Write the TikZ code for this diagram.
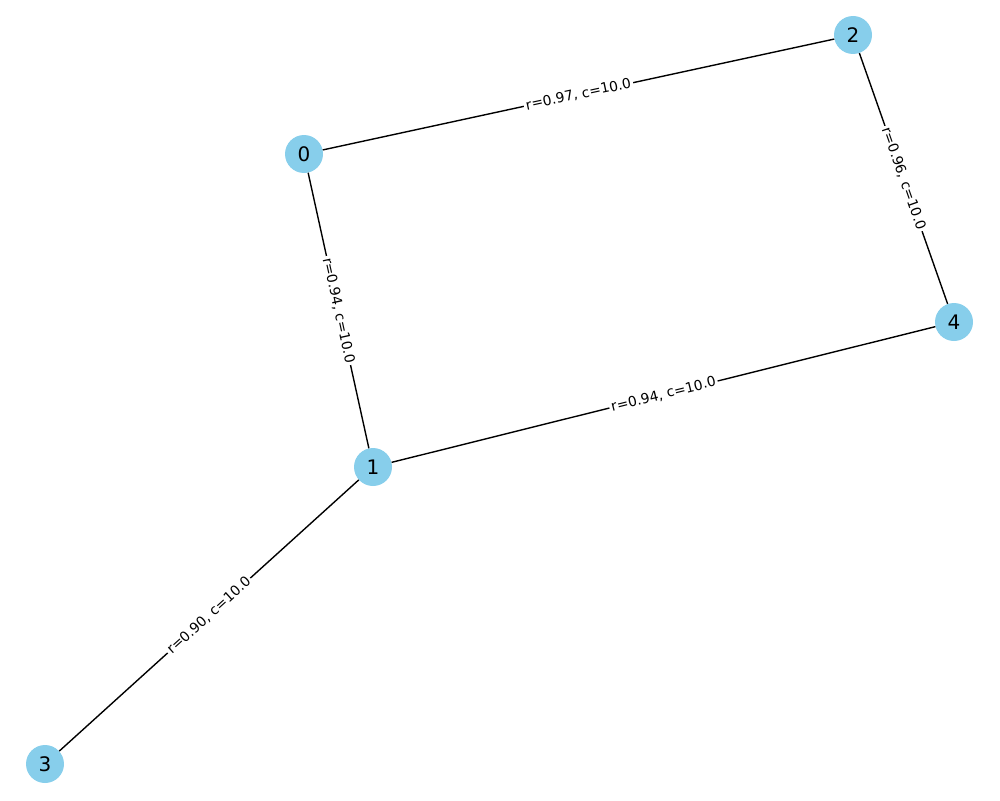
\documentclass[tikz,border=0pt]{standalone}
\usepackage{fontspec}
\setmainfont{DejaVu Sans}
\definecolor{skyblue}{HTML}{87CEEB}
\tikzset{
  vertex/.style={circle, fill=skyblue, minimum size=38pt, inner sep=0pt, font=\fontsize{20}{22}\selectfont},
  edge/.style={draw=black, line width=1.39pt},
  elabel/.style={midway, sloped, fill=white, inner sep=2pt, font=\fontsize{13.9}{15}\selectfont}
}
\begin{document}
\begin{tikzpicture}[x=1pt, y=-1pt]
\useasboundingbox (0,0) rectangle (1000,800);
\node[vertex] (n0) at (304,154) {0};
\node[vertex] (n1) at (373,467) {1};
\node[vertex] (n2) at (853,35) {2};
\node[vertex] (n3) at (45,764) {3};
\node[vertex] (n4) at (954,322) {4};
\draw[edge] (n0) -- node[elabel] {r=0.97, c=10.0} (n2);
\draw[edge] (n0) -- node[elabel] {r=0.94, c=10.0} (n1);
\draw[edge] (n2) -- node[elabel] {r=0.96, c=10.0} (n4);
\draw[edge] (n1) -- node[elabel] {r=0.94, c=10.0} (n4);
\draw[edge] (n1) -- node[elabel] {r=0.90, c=10.0} (n3);
\end{tikzpicture}
\end{document}
